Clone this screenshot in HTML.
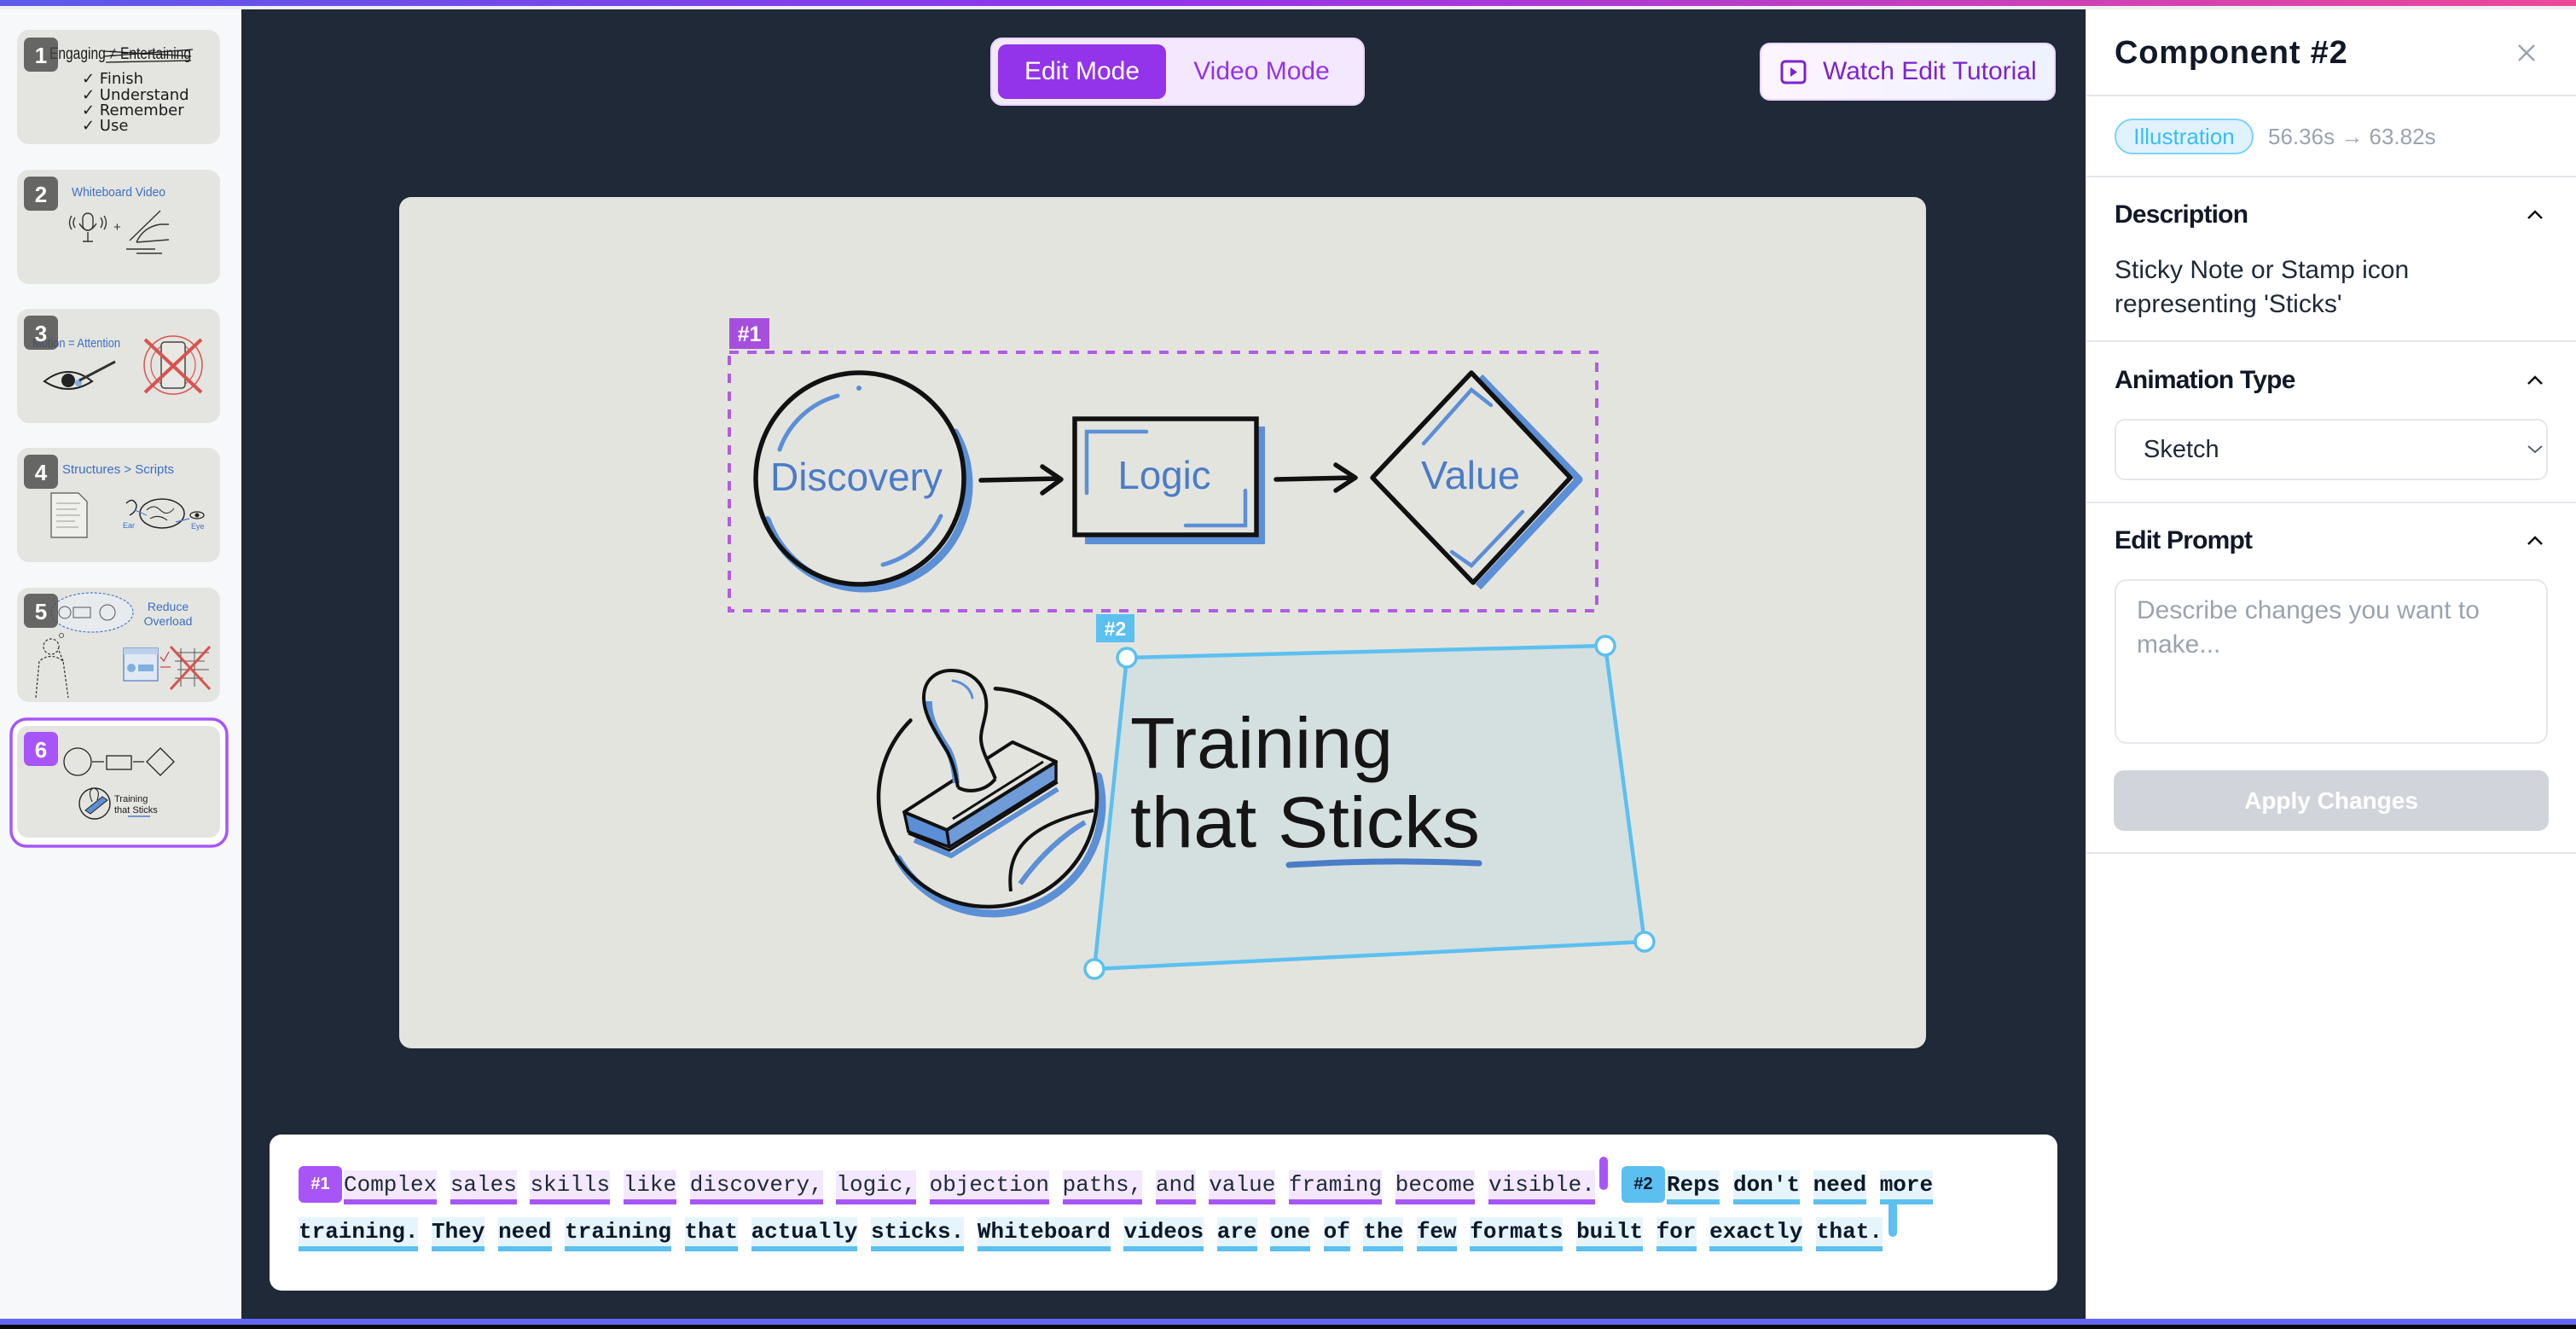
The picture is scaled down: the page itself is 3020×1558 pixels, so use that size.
<!DOCTYPE html>
<html><head><meta charset="utf-8">
<style>
*{margin:0;padding:0;box-sizing:border-box}
html,body{width:3020px;height:1558px;overflow:hidden;background:#1f2937;font-family:"Liberation Sans",sans-serif}
.a{position:absolute}
.tl{position:absolute;font-family:"Liberation Mono",monospace;font-size:26px;line-height:34px;white-space:nowrap;color:#1f2937}
.p{display:inline-block;height:40px;line-height:34px;background:#f3e8ff;border-bottom:6px solid #a855f7;vertical-align:top}
.b{display:inline-block;height:40px;line-height:34px;background:#e6f5fc;border-bottom:6px solid #5bc0f0;vertical-align:top;font-weight:bold;color:#0f172a}
.hd{position:absolute;left:2479px;font-size:30px;font-weight:bold;letter-spacing:-0.8px;line-height:40px;color:#111827}
.dv{position:absolute;left:2445px;width:575px;height:2px;background:#e5e7eb}
</style></head><body>

<div class="a" style="left:0;top:0;width:3020px;height:7px;background:linear-gradient(90deg,#5b5be8,#9333ea 45%,#ec4899)"></div>
<div class="a" style="left:0;top:7px;width:3020px;height:4px;background:#eef0f4"></div>
<div class="a" style="left:0;top:11px;width:283px;height:1535px;background:#f7f8fa"></div>
<div class="a" style="left:2445px;top:11px;width:575px;height:1535px;background:#fff;border-left:1px solid #e5e7eb"></div>
<div class="a" style="left:0;top:1546px;width:3020px;height:7px;background:#6366f1"></div>
<div class="a" style="left:0;top:1553px;width:3020px;height:5px;background:#0a0a0a"></div>

<svg class="a" style="left:0;top:0" width="3020" height="1558" viewBox="0 0 3020 1558" font-family="Liberation Sans, sans-serif">
<!-- Thumbnails -->
<rect x="20" y="35" width="238" height="134" rx="14" fill="#e4e4e0"/>
<rect x="20" y="199" width="238" height="134" rx="14" fill="#e4e4e0"/>
<rect x="20" y="362" width="238" height="134" rx="14" fill="#e4e4e0"/>
<rect x="20" y="525" width="238" height="134" rx="14" fill="#e4e4e0"/>
<rect x="20" y="689" width="238" height="134" rx="14" fill="#e4e4e0"/>
<rect x="13" y="843" width="253" height="149" rx="18" fill="#fff" stroke="#a855f7" stroke-width="3.5"/>
<rect x="20" y="851" width="238" height="131" rx="13" fill="#e4e4e0"/>

<!-- thumb 1 -->
<text x="58" y="69" font-size="19" fill="#1a1a1a" textLength="166" lengthAdjust="spacingAndGlyphs">Engaging ≠ Entertaining</text>
<path d="M122 66 L226 58 M122 60 L224 66 M124 73 L224 71" stroke="#1a1a1a" stroke-width="1.3" fill="none"/>
<g font-size="18" fill="#1a1a1a" font-family="DejaVu Sans, sans-serif">
<text x="96" y="98">✓ Finish</text>
<text x="96" y="117">✓ Understand</text>
<text x="96" y="135">✓ Remember</text>
<text x="96" y="153">✓ Use</text>
</g>

<!-- thumb 2 -->
<text x="84" y="230" font-size="15" fill="#3b6fc4" textLength="110" lengthAdjust="spacingAndGlyphs">Whiteboard Video</text>
<g stroke="#333" stroke-width="1.4" fill="none">
<rect x="97" y="250" width="12" height="20" rx="6"/>
<path d="M93 262 Q103 278 113 262 M103 272 L103 283 M97 283 L109 283 M88 255 Q84 261 88 267 M84 253 Q79 261 84 269 M118 255 Q122 261 118 267 M122 253 Q127 261 122 269"/>
<path d="M152 282 L188 247 M160 284 Q168 266 188 263 L198 263 M160 284 L198 281 M148 292 L182 292 M160 297 L190 297"/>
</g>
<text x="133" y="271" font-size="15" fill="#333">+</text>

<!-- thumb 3 -->
<text x="38" y="407" font-size="15" fill="#3b6fc4" textLength="103" lengthAdjust="spacingAndGlyphs">Motion = Attention</text>
<path d="M52 447 Q80 425 108 447 Q80 465 52 447 Z" stroke="#222" stroke-width="2" fill="none"/>
<circle cx="80" cy="446" r="8" fill="#222"/>
<circle cx="92" cy="449" r="4" fill="#7fb0e0"/>
<path d="M93 446 L135 424" stroke="#333" stroke-width="3"/>
<circle cx="203" cy="428" r="34" stroke="#d9534f" stroke-width="1.5" fill="none"/>
<circle cx="203" cy="428" r="26" stroke="#d9534f" stroke-width="1.2" fill="none"/>
<rect x="189" y="401" width="28" height="54" rx="4" stroke="#444" stroke-width="1.5" fill="#e8e8e4"/>
<path d="M170 398 L236 460 M236 398 L170 460" stroke="#d9534f" stroke-width="4"/>

<!-- thumb 4 -->
<text x="73" y="555" font-size="15" fill="#3b6fc4" textLength="131" lengthAdjust="spacingAndGlyphs">Structures &gt; Scripts</text>
<path d="M60 578 L92 578 L102 588 L102 630 L60 630 Z" stroke="#555" stroke-width="1.2" fill="#efefec"/>
<path d="M66 590 L94 590 M66 597 L90 597 M66 604 L94 604 M66 611 L88 611 M66 618 L92 618" stroke="#999" stroke-width="0.9"/>
<ellipse cx="190" cy="602" rx="26" ry="17" stroke="#222" stroke-width="1.5" fill="none"/>
<path d="M172 598 Q180 590 188 598 Q196 606 204 596 M176 608 Q186 602 196 610" stroke="#222" stroke-width="1" fill="none"/>
<path d="M148 590 Q156 582 160 592 Q160 600 152 604" stroke="#222" stroke-width="1.4" fill="none"/>
<ellipse cx="231" cy="604" rx="8" ry="4" stroke="#222" stroke-width="1.3" fill="none"/>
<circle cx="231" cy="604" r="2.5" fill="#222"/>
<path d="M158 598 L172 604 M222 608 L206 612" stroke="#4a7cc7" stroke-width="1.2"/>
<text x="144" y="619" font-size="9" fill="#3b6fc4">Ear</text>
<text x="224" y="620" font-size="9" fill="#3b6fc4">Eye</text>

<!-- thumb 5 -->
<ellipse cx="108" cy="718" rx="48" ry="23" stroke="#4a7cc7" stroke-width="1.2" stroke-dasharray="3 2" fill="#e8ebee"/>
<circle cx="76" cy="718" r="7" stroke="#555" fill="none"/>
<rect x="86" y="712" width="20" height="12" stroke="#555" fill="none"/>
<circle cx="126" cy="718" r="9" stroke="#555" fill="none"/>
<text x="197" y="716" font-size="14" fill="#3b6fc4" text-anchor="middle">Reduce</text>
<text x="197" y="733" font-size="14" fill="#3b6fc4" text-anchor="middle">Overload</text>
<circle cx="72" cy="745" r="2.5" stroke="#555" fill="none"/>
<g stroke="#333" stroke-width="1.2" stroke-dasharray="3 2" fill="none">
<circle cx="60" cy="758" r="9"/>
<path d="M42 818 L46 775 Q60 764 74 775 L80 818 M74 775 L68 760"/>
</g>
<rect x="145" y="760" width="40" height="38" stroke="#4a7cc7" stroke-width="1.2" fill="#dfe8f3"/>
<rect x="145" y="760" width="40" height="7" fill="#bcd0ea"/>
<circle cx="154" cy="783" r="5" fill="#7fb0e0"/>
<rect x="162" y="779" width="18" height="8" fill="#7fb0e0"/>
<path d="M200 782 L188 782 M188 770 L192 775 L198 764" stroke="#c44" stroke-width="1.3" fill="none"/>
<path d="M205 765 L245 765 M205 775 L240 775 M208 785 L245 785 M205 795 L238 795 M212 760 L212 805 M228 760 L228 805" stroke="#555" stroke-width="1" fill="none"/>
<path d="M200 758 L246 808 M246 758 L200 808" stroke="#d9534f" stroke-width="3"/>

<!-- thumb 6 -->
<circle cx="91" cy="893" r="16" stroke="#222" stroke-width="1.3" fill="none"/>
<path d="M108 893 L122 893 M156 893 L169 893" stroke="#222" stroke-width="1.2"/>
<rect x="125" y="886" width="29" height="16" stroke="#222" stroke-width="1.3" fill="none"/>
<path d="M188 877 L204 893 L188 909 L172 893 Z" stroke="#222" stroke-width="1.3" fill="none"/>
<circle cx="111" cy="942" r="18" stroke="#222" stroke-width="1.4" fill="none"/>
<path d="M100 950 L120 934 L126 938 L106 954 Z" fill="#5b8fd6" stroke="#222" stroke-width="1"/>
<path d="M108 940 Q102 926 110 924 Q118 926 114 938" stroke="#222" stroke-width="1.1" fill="#e4e4e0"/>
<text x="134" y="940" font-size="11" fill="#1a1a1a">Training</text>
<text x="134" y="953" font-size="11" fill="#1a1a1a">that Sticks</text>
<path d="M150 957 L176 957" stroke="#4a7cc7" stroke-width="1.5"/>

<!-- badges -->
<g font-size="26" font-weight="bold" fill="#fff" text-anchor="middle">
<rect x="28" y="44" width="40" height="40" rx="7" fill="rgba(70,70,70,0.8)"/><text x="48" y="74">1</text>
<rect x="28" y="207" width="40" height="40" rx="7" fill="rgba(70,70,70,0.8)"/><text x="48" y="237">2</text>
<rect x="28" y="370" width="40" height="40" rx="7" fill="rgba(70,70,70,0.8)"/><text x="48" y="400">3</text>
<rect x="28" y="533" width="40" height="40" rx="7" fill="rgba(70,70,70,0.8)"/><text x="48" y="563">4</text>
<rect x="28" y="696" width="40" height="40" rx="7" fill="rgba(70,70,70,0.8)"/><text x="48" y="726">5</text>
<rect x="28" y="858" width="40" height="40" rx="7" fill="#a855f7"/><text x="48" y="888">6</text>
</g>

<!-- Canvas -->
<rect x="468" y="231" width="1790" height="998" rx="14" fill="#e4e4df"/>

<!-- Discovery circle -->
<path d="M1119.7 507 A122 122 0 1 1 899.4 609.7" stroke="#5b8fd6" stroke-width="9" fill="none" stroke-linecap="round"/>
<ellipse cx="1008" cy="561" rx="122" ry="124" fill="none" stroke="#111" stroke-width="5.5"/>
<path d="M914 527 A100 100 0 0 1 982 464 M1103 605 A105 105 0 0 1 1035 662" stroke="#5b8fd6" stroke-width="5" fill="none" stroke-linecap="round"/>
<circle cx="1007" cy="455" r="3" fill="#5b8fd6"/>
<text x="1004" y="575" font-size="46" fill="#4a7cc7" text-anchor="middle" textLength="202" lengthAdjust="spacingAndGlyphs">Discovery</text>

<!-- arrows -->
<g stroke="#111" stroke-width="5.5" fill="none" stroke-linecap="round" stroke-linejoin="round">
<path d="M1150 563 L1242 561 M1222 547 L1244 562 L1222 578"/>
<path d="M1496 562 L1587 560 M1566 545 L1589 560 L1566 575"/>
</g>

<!-- Logic rect -->
<path d="M1478 500 L1478 633 L1272 633" stroke="#5b8fd6" stroke-width="10" fill="none"/>
<rect x="1260" y="491" width="213" height="136" fill="none" stroke="#111" stroke-width="5.5"/>
<path d="M1274 578 L1274 506 L1344 506 M1460 575 L1460 616 L1390 616" stroke="#5b8fd6" stroke-width="4.5" fill="none" stroke-linecap="round"/>
<text x="1365" y="573" font-size="46" fill="#4a7cc7" text-anchor="middle" textLength="109" lengthAdjust="spacingAndGlyphs">Logic</text>

<!-- Value diamond -->
<path d="M1735 442 L1851 562 L1733 688" stroke="#5b8fd6" stroke-width="9" fill="none" stroke-linejoin="round"/>
<polygon points="1725,437 1841,560 1727,683 1609,560" fill="none" stroke="#111" stroke-width="5.5" stroke-linejoin="round"/>
<path d="M1669 520 L1725 457 L1748 475 M1785 600 L1725 663 L1702 647" stroke="#5b8fd6" stroke-width="4.5" fill="none" stroke-linecap="round"/>
<text x="1724" y="573" font-size="46" fill="#4a7cc7" text-anchor="middle" textLength="116" lengthAdjust="spacingAndGlyphs">Value</text>

<!-- #1 dashed box -->
<rect x="855" y="413" width="1017" height="303" fill="none" stroke="#b15be6" stroke-width="4" stroke-dasharray="11 10"/>
<rect x="855" y="373" width="47" height="36" fill="#a64fdc"/>
<text x="878.5" y="400" font-size="25" font-weight="bold" fill="#fff" text-anchor="middle">#1</text>

<!-- Stamp -->
<path d="M1287.6 909.9 A128 128 0 0 1 1053.1 1007" stroke="#5b8fd6" stroke-width="9" fill="none" stroke-linecap="round"/>
<path d="M1166.9 807.3 A128 128 0 1 1 1067.5 844.5" stroke="#111" stroke-width="4.5" fill="none" stroke-linecap="round"/>
<path d="M1185 1045 C1180 1000 1200 968 1282 950" stroke="#111" stroke-width="4" fill="none"/>
<path d="M1196 1036 C1220 1002 1248 978 1272 964" stroke="#5b8fd6" stroke-width="6" fill="none"/>
<path d="M1072 985 L1115 1003 L1240 925" stroke="#5b8fd6" stroke-width="6" fill="none"/>
<path d="M1065 977 L1113 997 L1240 917" stroke="#111" stroke-width="3" fill="none"/>
<polygon points="1060,952 1110,973 1113,993 1065,975" fill="#5b8fd6" stroke="#111" stroke-width="3.5" stroke-linejoin="round"/>
<polygon points="1110,973 1238,893 1238,915 1113,993" fill="#6f9bd8" stroke="#111" stroke-width="3.5" stroke-linejoin="round"/>
<polygon points="1060,952 1187,870 1238,893 1110,973" fill="#e4e4df" stroke="#111" stroke-width="4" stroke-linejoin="round"/>
<path d="M1117 960 L1223 893" stroke="#111" stroke-width="3"/>
<path d="M1123 923 C1120 905 1117 893 1110 880 C1100 863 1083 840 1083 818 C1083 795 1100 786 1115 786 C1135 786 1150 797 1155 815 C1160 835 1150 850 1150 865 C1150 880 1160 895 1167 913 C1155 928 1135 930 1123 923 Z" fill="#e4e4df"/>
<path d="M1089 822 C1088 845 1102 864 1112 880 C1118 892 1120 905 1121 918" stroke="#5b8fd6" stroke-width="8" fill="none"/>
<path d="M1123 923 C1120 905 1117 893 1110 880 C1100 863 1083 840 1083 818 C1083 795 1100 786 1115 786 C1135 786 1150 797 1155 815 C1160 835 1150 850 1150 865 C1150 880 1160 895 1167 913 M1123 923 C1135 930 1155 928 1167 913" stroke="#111" stroke-width="4" fill="none"/>
<path d="M1117 798 C1130 800 1138 808 1140 818" stroke="#5b8fd6" stroke-width="3" fill="none" stroke-linecap="round"/>

<!-- #2 region -->
<polygon points="1321,771 1882,757 1928,1104 1283,1136" fill="rgba(110,190,235,0.13)" stroke="#5bc0f0" stroke-width="4.5"/>
<text x="1325" y="900" font-size="84" fill="#151515" textLength="308" lengthAdjust="spacingAndGlyphs">Training</text>
<text x="1325" y="993" font-size="84" fill="#151515" textLength="410" lengthAdjust="spacingAndGlyphs">that Sticks</text>
<path d="M1511 1014 Q1620 1007 1734 1012" stroke="#4a7cc7" stroke-width="7" fill="none" stroke-linecap="round"/>
<g fill="#fff" stroke="#5bc0f0" stroke-width="3.5">
<circle cx="1321" cy="771" r="11"/><circle cx="1882" cy="757" r="11"/><circle cx="1928" cy="1104" r="11"/><circle cx="1283" cy="1136" r="11"/>
</g>
<rect x="1285" y="720" width="45" height="33" fill="#5bc0f0"/>
<text x="1307.5" y="745" font-size="23" font-weight="bold" fill="#fff" text-anchor="middle">#2</text>
</svg>

<!-- Toolbar -->
<div class="a" style="left:1161px;top:44px;width:439px;height:80px;background:#f3e8ff;border:2px solid #e9d5ff;border-radius:14px"></div>
<div class="a" style="left:1170px;top:52px;width:197px;height:64px;background:#9333ea;border-radius:10px;color:#fff;font-size:30px;line-height:64px;text-align:center">Edit Mode</div>
<div class="a" style="left:1379px;top:52px;width:200px;height:64px;color:#9333ea;font-size:30px;line-height:64px;text-align:center">Video Mode</div>

<div class="a" style="left:2063px;top:50px;width:347px;height:68px;background:linear-gradient(90deg,#fdf4ff,#eef2ff);border:2px solid #e9d5ff;border-radius:12px"></div>
<svg class="a" style="left:2087px;top:70px" width="32" height="30"><rect x="2" y="2" width="27" height="25" rx="4" fill="none" stroke="#7e22ce" stroke-width="3"/><polygon points="12,9 12,20 20,14.5" fill="#7e22ce"/></svg>
<div class="a" style="left:2137px;top:50px;height:68px;line-height:68px;font-size:30px;color:#7e22ce;white-space:nowrap">Watch Edit Tutorial</div>

<!-- Transcript -->
<div class="a" style="left:316px;top:1330px;width:2096px;height:183px;background:#fff;border-radius:14px"></div>
<div class="a" style="left:350px;top:1367px;width:51px;height:43px;background:#a855f7;border-radius:6px;color:#fff;font-weight:bold;font-size:20px;line-height:43px;text-align:center">#1</div>
<div class="tl" style="left:403px;top:1372px"><span class="p">Complex</span> <span class="p">sales</span> <span class="p">skills</span> <span class="p">like</span> <span class="p">discovery,</span> <span class="p">logic,</span> <span class="p">objection</span> <span class="p">paths,</span> <span class="p">and</span> <span class="p">value</span> <span class="p">framing</span> <span class="p">become</span> <span class="p">visible.</span></div>
<div class="a" style="left:1875px;top:1356px;width:10px;height:39px;background:#a855f7;border-radius:5px"></div>
<div class="a" style="left:1901px;top:1367px;width:51px;height:43px;background:#5bc0f0;border-radius:6px;color:#0f172a;font-weight:bold;font-size:20px;line-height:43px;text-align:center">#2</div>
<div class="tl" style="left:1954px;top:1372px"><span class="b">Reps</span> <span class="b">don't</span> <span class="b">need</span> <span class="b">more</span></div>
<div class="tl" style="left:350px;top:1427px;font-weight:bold"><span class="b">training.</span> <span class="b">They</span> <span class="b">need</span> <span class="b">training</span> <span class="b">that</span> <span class="b">actually</span> <span class="b">sticks.</span> <span class="b">Whiteboard</span> <span class="b">videos</span> <span class="b">are</span> <span class="b">one</span> <span class="b">of</span> <span class="b">the</span> <span class="b">few</span> <span class="b">formats</span> <span class="b">built</span> <span class="b">for</span> <span class="b">exactly</span> <span class="b">that.</span></div>
<div class="a" style="left:2214px;top:1408px;width:10px;height:42px;background:#5bc0f0;border-radius:5px"></div>

<!-- Right panel -->
<div class="a" style="left:2479px;top:39px;font-size:38px;font-weight:bold;letter-spacing:0.8px;line-height:46px;color:#111827;white-space:nowrap">Component #2</div>
<svg class="a" style="left:2951px;top:51px" width="22" height="22"><path d="M2 2 L20 20 M20 2 L2 20" stroke="#9ca3af" stroke-width="2.5"/></svg>
<div class="dv" style="top:111px"></div>
<div class="a" style="left:2479px;top:139px;width:163px;height:42px;border:2px solid #7dd3fc;background:#e0f2fe;border-radius:21px;font-size:26px;color:#38bdf8;text-align:center;line-height:38px">Illustration</div>
<div class="a" style="left:2659px;top:139px;line-height:42px;font-size:26px;color:#9ca3af;white-space:nowrap">56.36s → 63.82s</div>
<div class="dv" style="top:206px"></div>

<div class="hd" style="top:232px">Description</div>
<svg class="a" style="left:2962px;top:245px" width="20" height="14"><polyline points="2,11 10,3 18,11" fill="none" stroke="#111" stroke-width="2.5"/></svg>
<div class="a" style="left:2479px;top:297px;font-size:30px;line-height:40px;color:#1f2937;white-space:nowrap">Sticky Note or Stamp icon<br>representing 'Sticks'</div>
<div class="dv" style="top:399px"></div>

<div class="hd" style="top:426px">Animation Type</div>
<svg class="a" style="left:2962px;top:439px" width="20" height="14"><polyline points="2,11 10,3 18,11" fill="none" stroke="#111" stroke-width="2.5"/></svg>
<div class="a" style="left:2479px;top:491px;width:508px;height:72px;border:2px solid #e5e7eb;border-radius:12px"></div>
<div class="a" style="left:2513px;top:491px;line-height:72px;font-size:29px;color:#1f2937">Sketch</div>
<svg class="a" style="left:2962px;top:521px" width="20" height="12"><polyline points="2,2 10,9 18,2" fill="none" stroke="#4b5563" stroke-width="1.8"/></svg>
<div class="dv" style="top:588px"></div>

<div class="hd" style="top:614px">Edit Prompt</div>
<svg class="a" style="left:2962px;top:627px" width="20" height="14"><polyline points="2,11 10,3 18,11" fill="none" stroke="#111" stroke-width="2.5"/></svg>
<div class="a" style="left:2479px;top:679px;width:508px;height:193px;border:2px solid #e5e7eb;border-radius:14px"></div>
<div class="a" style="left:2505px;top:696px;font-size:30px;line-height:40px;color:#9ca3af;white-space:nowrap">Describe changes you want to<br>make...</div>
<div class="a" style="left:2478px;top:903px;width:510px;height:71px;border-radius:12px;background:#d1d5db;color:#fff;font-size:28px;font-weight:bold;text-align:center;line-height:71px">Apply Changes</div>
<div class="dv" style="top:999px"></div>

</body></html>
